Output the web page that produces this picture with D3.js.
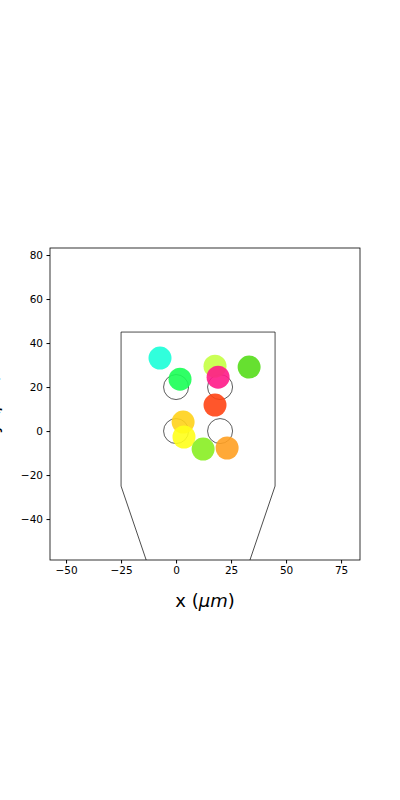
<!DOCTYPE html>
<html><head><meta charset="utf-8">
<script src="https://cdn.jsdelivr.net/npm/d3@7"></script>
<style>body{margin:0;background:#fff}svg text{font-family:"DejaVu Sans",sans-serif}</style>
</head><body><svg id="c" width="400" height="800"></svg>
<script>
// electrode sites (open circles)
const siteX = [0, 20, 0, 20];
const siteY = [0, 0, 20, 20];
// unit positions and colours
const unitX = [-7.3, 1.8, 17.7, 19.1, 33.2, 17.7, 3.2, 3.6, 12.3, 23.2];
const unitY = [33.2, 23.6, 29.5, 24.5, 29.1, 11.8, 4.1, -2.7, -8.2, -7.7];
const unitColor = ["#1affd8", "#1aff55", "#c4ff44", "#ff1a88", "#55dd1a", "#ff4414", "#ffd21a", "#ffff1a", "#88ee22", "#ffa022"];
// probe outline
const probeX = [-25, 45, 45, 10, -25];
const probeY = [45, 45, -25, -128, -25];
const xTicks = [-50, -25, 0, 25, 50, 75];
const yTicks = [-40, -20, 0, 20, 40, 60, 80];

const svg = d3.select("#c");
const L = 50, R = 360, T = 248, B = 560;
const x = d3.scaleLinear().domain([-57.3, 83.6]).range([L, R]);
const y = d3.scaleLinear().domain([-58.6, 83.2]).range([B, T]);

svg.append("clipPath").attr("id", "clip").append("rect")
  .attr("x", L).attr("y", T).attr("width", R - L).attr("height", B - T);
const g = svg.append("g").attr("clip-path", "url(#clip)");

g.append("path")
  .datum(probeX.map((d, i) => [d, probeY[i]]))
  .attr("d", d3.line().x(d => x(d[0])).y(d => y(d[1])).curve(d3.curveLinearClosed))
  .attr("fill", "none").attr("stroke", "#000").attr("stroke-width", 0.7);

g.selectAll(".site").data(siteX).join("circle")
  .attr("cx", d => x(d)).attr("cy", (d, i) => y(siteY[i]))
  .attr("r", 12.5).attr("fill", "none").attr("stroke", "#333").attr("stroke-width", 0.8);

g.selectAll(".unit").data(unitX).join("circle")
  .attr("cx", d => x(d)).attr("cy", (d, i) => y(unitY[i]))
  .attr("r", 11.5).attr("fill", (d, i) => unitColor[i]).attr("opacity", 0.9);

svg.append("g").attr("transform", `translate(0,${B})`)
  .call(d3.axisBottom(x).tickValues(xTicks).tickSize(3.5).tickPadding(3.5))
  .call(a => a.select(".domain").remove())
  .call(a => a.selectAll("text").attr("font-size", 10.5).attr("fill", "#000"));
svg.append("g").attr("transform", `translate(${L},0)`)
  .call(d3.axisLeft(y).tickValues(yTicks).tickSize(3.5).tickPadding(3.5))
  .call(a => a.select(".domain").remove())
  .call(a => a.selectAll("text").attr("font-size", 10.5).attr("fill", "#000"));
svg.append("rect").attr("x", L).attr("y", T).attr("width", R - L).attr("height", B - T)
  .attr("fill", "none").attr("stroke", "#000").attr("stroke-width", 0.8);

const xl = svg.append("text").attr("x", (L + R) / 2).attr("y", 607).attr("text-anchor", "middle")
  .attr("font-size", 18);
xl.append("tspan").text("x (");
xl.append("tspan").attr("font-style", "italic").text("μm");
xl.append("tspan").text(")");
const yl = svg.append("text").attr("transform", `translate(-2,${(T + B) / 2}) rotate(-90)`)
  .attr("text-anchor", "middle").attr("font-size", 18);
yl.append("tspan").text("y (");
yl.append("tspan").attr("font-style", "italic").text("μm");
yl.append("tspan").text(")");
</script></body></html>
